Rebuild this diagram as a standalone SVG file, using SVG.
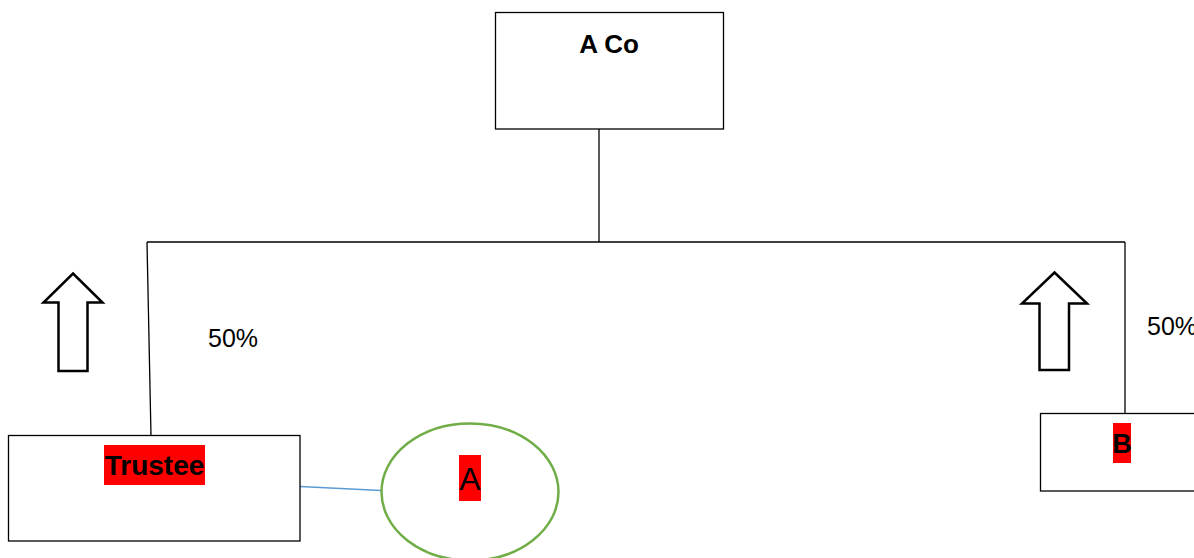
<svg xmlns="http://www.w3.org/2000/svg" width="1194" height="558" viewBox="0 0 1194 558">
<style>
.box{fill:#fff;stroke:#000;stroke-width:1.3}
.hl{fill:#ff0000}
.bold{font-family:"Liberation Sans",Arial,sans-serif;font-weight:bold;fill:#000}
.reg{font-family:"Liberation Sans",Arial,sans-serif;fill:#000}
.conn{fill:none;stroke:#000;stroke-width:1.3}
.arrow{fill:#fff;stroke:#000;stroke-width:2.5;stroke-linejoin:miter}
</style>
<rect width="1194" height="558" fill="#fff"/>
<g id="connectors">
<line class="conn" x1="599" y1="129" x2="599" y2="242"/>
<line class="conn" x1="147" y1="242" x2="1125" y2="242"/>
<line class="conn" x1="147" y1="242" x2="151" y2="436"/>
<line class="conn" x1="1125" y1="242" x2="1125" y2="413"/>
<line x1="300" y1="486.5" x2="381" y2="490.5" stroke="#5b9bd5" stroke-width="1.3"/>
</g>
<g id="aco">
<rect class="box" x="495.5" y="12.5" width="228" height="116.5"/>
<text class="bold" x="609" y="53" font-size="26" text-anchor="middle">A Co</text>
</g>
<g id="trustee">
<rect class="box" x="8.5" y="435.5" width="291.5" height="105.5"/>
<rect class="hl" x="104" y="445" width="101" height="40"/>
<text class="bold" x="154.5" y="475" font-size="28" text-anchor="middle">Trustee</text>
</g>
<g id="b">
<rect class="box" x="1040.5" y="413.5" width="160" height="77.5"/>
<rect class="hl" x="1113" y="423" width="18" height="40"/>
<text class="bold" x="1122" y="453" font-size="27" text-anchor="middle">B</text>
</g>
<g id="a">
<ellipse cx="470" cy="492" rx="88.5" ry="68.5" fill="#fff" stroke="#70ad47" stroke-width="2.5"/>
<rect class="hl" x="459" y="455" width="22" height="46"/>
<text class="reg" x="470" y="490" font-size="32" text-anchor="middle">A</text>
</g>
<g id="arrow-left">
<polygon class="arrow" points="73,273.5 102.5,302.5 87.5,302.5 87.5,371 58.5,371 58.5,302.5 43.5,302.5"/>
</g>
<g id="arrow-right">
<polygon class="arrow" points="1054.5,272.5 1087,303.5 1069,303.5 1069,370 1039.5,370 1039.5,303.5 1022,303.5"/>
</g>
<g id="labels">
<text class="reg" x="208" y="347" font-size="25">50%</text>
<text class="reg" x="1147" y="335" font-size="25">50%</text>
</g>
</svg>
